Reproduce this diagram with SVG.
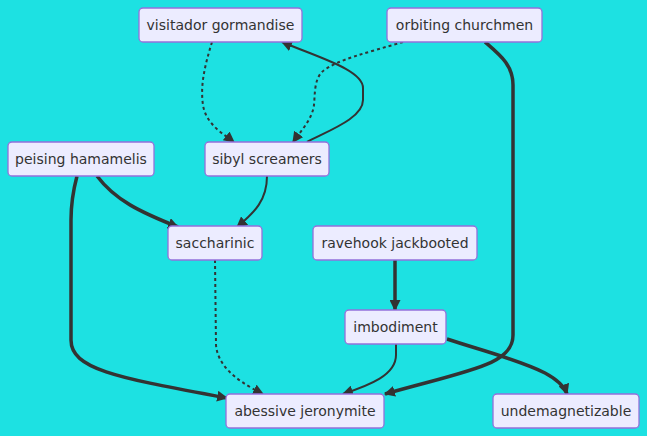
<svg xmlns="http://www.w3.org/2000/svg" width="647" height="436" viewBox="0 0 647 436">
<style>
.n rect{fill:#ECECFF;stroke:#9370DB;stroke-width:1.3px}
.n text{font-family:"DejaVu Sans",sans-serif;font-size:14px;fill:#333;text-anchor:middle;dominant-baseline:central}
.e{fill:none;stroke:#333}
.s{stroke-width:2px}
.t{stroke-width:3.5px}
.d{stroke-width:2px;stroke-dasharray:3 3}
</style>
<defs>
<marker id="ah" viewBox="0 0 10 10" refX="9" refY="5" markerUnits="userSpaceOnUse" markerWidth="11" markerHeight="11" orient="auto">
<path d="M0,0 L10,5 L0,10 z" fill="#333"/>
</marker>
</defs>
<rect width="647" height="436" fill="#1DE1E2"/>
<g id="edges">
<path class="e d" d="M212,42 C205,65 200,85 203,105 C206,125 225,135 234,142" marker-end="url(#ah)"/>
<path class="e d" d="M403,42 C370,52 335,60 322,72 C314,80 315,95 314,105 C312,120 300,132 293,142" marker-end="url(#ah)"/>
<path class="e s" d="M307,142 C330,130 363,118 363,100 L363,88 C363,70 320,58 282,42" marker-end="url(#ah)"/>
<path class="e t" d="M485,42 C500,55 513,65 513,85 L513,335 C513,365 470,370 385,394" marker-end="url(#ah)"/>
<path class="e t" d="M97,176 C115,200 140,212 178,227" marker-end="url(#ah)"/>
<path class="e s" d="M267,176 C267,200 255,212 237,227" marker-end="url(#ah)"/>
<path class="e t" d="M77,176 C72,195 71,205 71,220 L71,340 C71,370 120,378 227,398" marker-end="url(#ah)"/>
<path class="e d" d="M215,260 L216,345 C218,370 245,385 263,394" marker-end="url(#ah)"/>
<path class="e t" d="M395,260 L395,310" marker-end="url(#ah)"/>
<path class="e s" d="M396,344 L396,355 C396,375 370,385 343,394" marker-end="url(#ah)"/>
<path class="e t" d="M447,339 C480,350 520,360 545,373 C558,380 565,388 567,394" marker-end="url(#ah)"/>
</g>
<g id="visitador" class="n"><rect x="139" y="8" width="163" height="34" rx="4"/><text x="220.5" y="25">visitador gormandise</text></g>
<g id="orbiting" class="n"><rect x="387" y="8" width="155" height="34" rx="4"/><text x="464.5" y="25">orbiting churchmen</text></g>
<g id="peising" class="n"><rect x="8" y="142" width="146" height="34" rx="4"/><text x="81" y="159">peising hamamelis</text></g>
<g id="sibyl" class="n"><rect x="205" y="142" width="124" height="34" rx="4"/><text x="267" y="159">sibyl screamers</text></g>
<g id="saccharinic" class="n"><rect x="168" y="226" width="94" height="34" rx="4"/><text x="215" y="243">saccharinic</text></g>
<g id="ravehook" class="n"><rect x="313" y="226" width="164" height="34" rx="4"/><text x="395" y="243">ravehook jackbooted</text></g>
<g id="imbodiment" class="n"><rect x="345" y="310" width="101" height="34" rx="4"/><text x="395.5" y="327">imbodiment</text></g>
<g id="abessive" class="n"><rect x="226" y="394" width="158" height="34" rx="4"/><text x="305" y="411">abessive jeronymite</text></g>
<g id="undemag" class="n"><rect x="493" y="394" width="146" height="34" rx="4"/><text x="566" y="411">undemagnetizable</text></g>
</svg>
